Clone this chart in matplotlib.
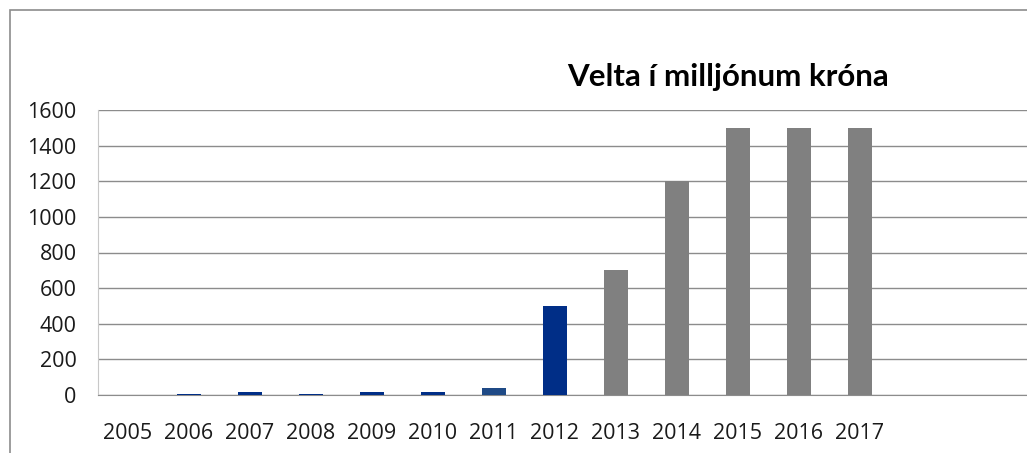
import matplotlib.pyplot as plt
from matplotlib.patches import Rectangle

years = ['2005', '2006', '2007', '2008', '2009', '2010', '2011',
         '2012', '2013', '2014', '2015', '2016', '2017']
velta = [0, 5, 15, 5, 15, 15, 38, 500, 700, 1200, 1500, 1500, 1500]
colors = ['#002e87'] * 6 + ['#1f4a86', '#002e87'] + ['#808080'] * 5
yticks = [0, 200, 400, 600, 800, 1000, 1200, 1400, 1600]

fig = plt.figure(figsize=(10.27, 4.53), dpi=100)
ax = fig.add_axes([97.5 / 1027, 1 - 395 / 453, 1 - 97.5 / 1027, 285 / 453])

x = range(len(years))
ax.bar(x, velta, width=0.4, color=colors, zorder=3)

ax.set_xlim(-0.5, 14.74)
ax.set_ylim(0, 1600)
ax.set_yticks(yticks)
ax.set_yticklabels([str(v) for v in yticks], fontsize=15.5, family='Open Sans')
ax.set_xticks(list(x))
ax.set_xticklabels(years, fontsize=15.5, family='Open Sans')
ax.tick_params(axis='both', length=0, colors='#1a1a1a')
ax.tick_params(axis='y', pad=15)
ax.tick_params(axis='x', pad=20)
ax.grid(axis='y', color='#8c8c8c', linewidth=1, zorder=0)

for side in ['top', 'right']:
    ax.spines[side].set_visible(False)
ax.spines['left'].set_color('#c8c8c8')
ax.spines['bottom'].set_color('#8c8c8c')

fig.text(728 / 1027, 1 - 77 / 453, 'Velta í milljónum króna',
         ha='center', va='center', fontsize=22.5, fontweight='bold',
         family=['Lato', 'DejaVu Sans'])

# outer chart frame
fig.patches.append(Rectangle((10 / 1027, -0.1), 1.2, 1.1 - 10 / 453,
                             transform=fig.transFigure, fill=False,
                             edgecolor='#8c8c8c', linewidth=1.2))

fig.savefig('out.png', dpi=100)
